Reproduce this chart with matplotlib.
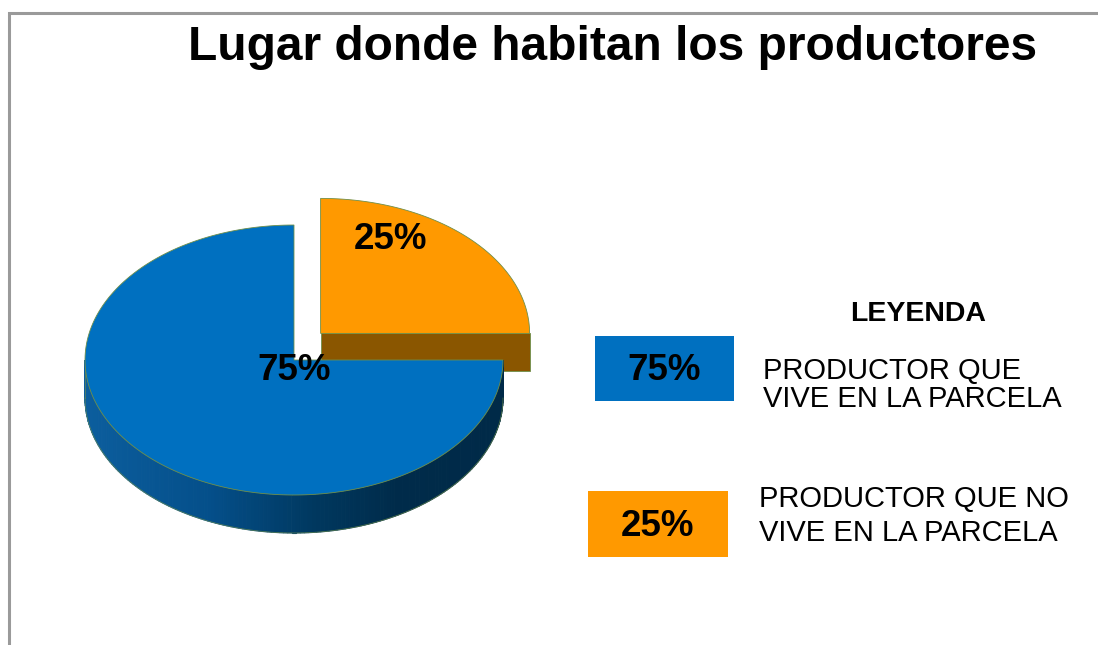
import numpy as np
import matplotlib
matplotlib.use("Agg")
import matplotlib.pyplot as plt
from matplotlib.patches import Polygon, Rectangle
from matplotlib.colors import to_rgb

# ---- data ----
categories = ["PRODUCTOR QUE\nVIVE EN LA PARCELA", "PRODUCTOR QUE NO\nVIVE EN LA PARCELA"]
values = [75, 25]
pct_labels = ["75%", "25%"]
top_colors = ["#0070C0", "#FF9900"]
side_colors = ["#0a5a9a", "#8a5600"]
title = "Lugar donde habitan los productores"
legend_title = "LEYENDA"

# ---- layout (pixel coordinates, y downward) ----
W, H = 1098, 645
cx, cy = 294, 360
a, b = 209, 135
depth = 38
explode = [0.0, 0.18]
start_angle = 90.0

fig = plt.figure(figsize=(W / 100, H / 100), dpi=100)
ax = fig.add_axes([0, 0, 1, 1])
ax.set_xlim(0, W)
ax.set_ylim(H, 0)
ax.axis("off")

FONT = "Liberation Sans"
edge_col = "#6f8f4a"

# frame lines
ax.plot([9, 9, W], [H, 12.5, 12.5], color="#9a9a9a", lw=2.2, solid_capstyle="butt",
        solid_joinstyle="miter", zorder=1)

def pt(t_deg, ox, oy, dz=0.0):
    t = np.radians(t_deg)
    return ox + a * np.cos(t), oy - b * np.sin(t) + dz

total = float(sum(values))
angles = []
ang = start_angle
for v in values:
    span = v / total * 360.0
    angles.append((ang, ang + span))
    ang += span

def lerp_color(c1, c2, f):
    c1, c2 = np.array(to_rgb(c1)), np.array(to_rgb(c2))
    return tuple(c1 + (c2 - c1) * f)

def blue_side_color(x):
    f = (x - (cx - a)) / (2 * a)
    stops = [(0.0, "#0c5e9e"), (0.3, "#044f8a"), (0.55, "#00385f"), (0.75, "#002b4a"), (1.0, "#002a48")]
    for (f1, c1), (f2, c2) in zip(stops[:-1], stops[1:]):
        if f <= f2:
            return lerp_color(c1, c2, (f - f1) / (f2 - f1))
    return to_rgb(stops[-1][1])

# draw order: exploded (back) slices first
order = sorted(range(len(values)), key=lambda i: -explode[i])
for i in order:
    t0, t1 = angles[i]
    mid = np.radians((t0 + t1) / 2)
    ox = cx + explode[i] * a * np.cos(mid)
    oy = cy - explode[i] * a * np.sin(mid)
    # visible cut faces of the exploded slice
    for te in (t0, t1):
        xr, yr = pt(te, ox, oy)
        s, c = np.sin(np.radians(te)), np.cos(np.radians(te))
        facing = (te == t0 and s <= 1e-9 and c > 0) or (te == t1 and s <= 1e-9 and c < 0)
        if facing and explode[i] > 0:
            poly = [(ox, oy), (xr, yr), (xr, yr + depth), (ox, oy + depth)]
            ax.add_patch(Polygon(poly, closed=True, fc=side_colors[i], ec=edge_col, lw=0.6, zorder=2))
    # rim side (front half only)
    lo, hi = max(t0, 180.0), min(t1, 360.0)
    if hi > lo:
        ts = np.linspace(lo, hi, 160)
        for k in range(len(ts) - 1):
            x1, y1 = pt(ts[k], ox, oy)
            x2, y2 = pt(ts[k + 1], ox, oy)
            col = blue_side_color((x1 + x2) / 2) if i == 0 else side_colors[i]
            ax.add_patch(Polygon([(x1, y1), (x2, y2), (x2, y2 + depth), (x1, y1 + depth)],
                                 closed=True, fc=col, ec=col, lw=0.8, zorder=3))
        xb = [pt(t, ox, oy, depth)[0] for t in ts]
        yb = [pt(t, ox, oy, depth)[1] for t in ts]
        ax.plot(xb, yb, color=edge_col, lw=0.6, alpha=0.7, zorder=3)
        xl, yl = pt(lo, ox, oy)
        ax.plot([xl, xl], [yl, yl + depth], color=edge_col, lw=0.6, alpha=0.7, zorder=3)
    # top face
    ts = np.linspace(t0, t1, 200)
    top = [(ox, oy)] + [pt(t, ox, oy) for t in ts]
    ax.add_patch(Polygon(top, closed=True, fc=top_colors[i], ec=edge_col, lw=0.6, zorder=4))

# percentage labels on slices
label_offsets = [(0, 11), (70, -94)]
for i in range(len(values)):
    t0, t1 = angles[i]
    mid = np.radians((t0 + t1) / 2)
    ox = cx + explode[i] * a * np.cos(mid)
    oy = cy - explode[i] * a * np.sin(mid)
    dx, dy = label_offsets[i]
    ax.text(ox + dx, oy + dy, pct_labels[i], ha="center", va="center",
            fontsize=26.5, fontweight="bold", family=FONT, zorder=6)

# title
ax.text(613, 48, title, ha="center", va="center", fontsize=34.5, fontweight="bold",
        family=FONT, zorder=6)

# legend
ax.text(918, 314, legend_title, ha="center", va="center", fontsize=20.5,
        fontweight="bold", family=FONT)
box_rects = [(595, 336, 139, 65), (588, 491, 140, 66)]
text_pos = [(763, 385, 1.0), (759, 516, 1.3)]
for i in range(len(values)):
    x0, y0, w, h = box_rects[i]
    ax.add_patch(Rectangle((x0, y0), w, h, fc=top_colors[i], ec="none", zorder=5))
    ax.text(x0 + w / 2, y0 + h / 2 + 2, pct_labels[i], ha="center", va="center",
            fontsize=26.5, fontweight="bold", family=FONT, zorder=6)
    tx, ty, ls = text_pos[i]
    ax.text(tx, ty, categories[i], ha="left", va="center", fontsize=21,
            family=FONT, linespacing=ls, zorder=6)

fig.savefig("out.png", dpi=100, facecolor="white")
